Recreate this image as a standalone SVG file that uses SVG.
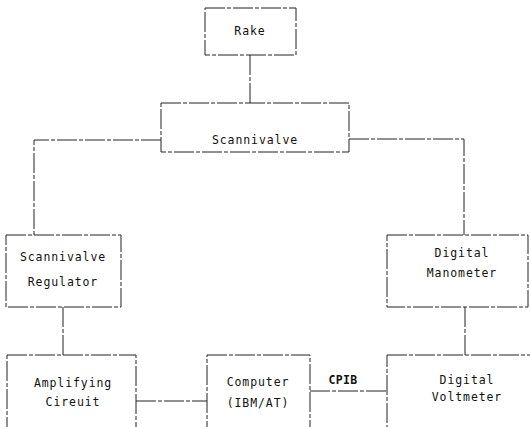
<svg xmlns="http://www.w3.org/2000/svg" width="530" height="427" viewBox="0 0 530 427">
<style>
.box{fill:none;stroke:#222;stroke-width:1;stroke-dasharray:20 2 4 2}
.ln{fill:none;stroke:#222;stroke-width:1;stroke-dasharray:20 2 4 2}
text{font-family:"DejaVu Sans Mono","Liberation Mono",monospace;font-size:11.5px;fill:#111;text-anchor:middle;letter-spacing:0.9px}
.b{font-weight:bold;letter-spacing:0.3px}
</style>
<rect width="530" height="427" fill="#fff"/>
<g id="connectors">
<path class="ln" d="M250 55V103"/>
<path class="ln" d="M161 140H34V235"/>
<path class="ln" d="M349 139H464V235"/>
<path class="ln" d="M63 307V355"/>
<path class="ln" d="M465 307V355"/>
<path class="ln" d="M136 401H207"/>
<path class="ln" d="M310 391H387"/>
<text class="b" x="343" y="384">CPIB</text>
</g>
<g id="rake"><rect class="box" x="205" y="8" width="91" height="47"/><text x="250" y="35">Rake</text></g>
<g id="scannivalve"><rect class="box" x="161" y="103" width="188" height="49"/><text x="255" y="144">Scannivalve</text></g>
<g id="regulator"><rect class="box" x="6" y="235" width="115" height="72"/><text x="63" y="261">Scannivalve</text><text x="63" y="286">Regulator</text></g>
<g id="manometer"><rect class="box" x="387" y="235" width="141" height="72"/><text x="462" y="257">Digital</text><text x="462" y="277">Manometer</text></g>
<g id="amplifying"><rect class="box" x="7" y="355" width="129" height="80"/><text x="73" y="387">Amplifying</text><text x="73" y="406">Cireuit</text></g>
<g id="computer"><rect class="box" x="207" y="355" width="103" height="80"/><text x="258" y="386">Computer</text><text x="258" y="407">(IBM/AT)</text></g>
<g id="voltmeter"><rect class="box" x="387" y="355" width="150" height="80"/><text x="467" y="384">Digital</text><text x="467" y="401">Voltmeter</text></g>
</svg>
